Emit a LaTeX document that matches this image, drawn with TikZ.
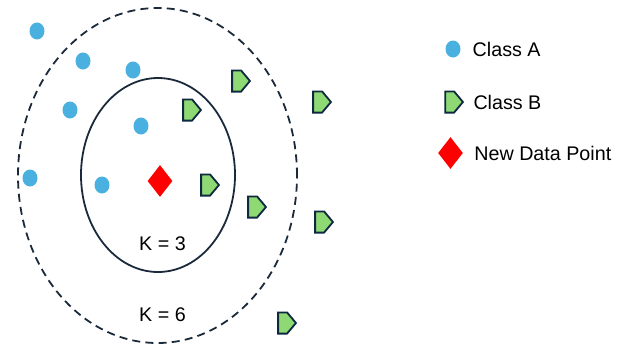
\documentclass[tikz,border=0pt]{standalone}
\usepackage{fontspec}
\setmainfont{Liberation Sans}
\usepackage{tikz}
\usepackage{xcolor}
\usetikzlibrary{shapes.geometric, shapes.symbols, positioning}

\definecolor{dotblue}{HTML}{4AB0E0}
\definecolor{flaggreen}{HTML}{8ED973}
\definecolor{navy}{HTML}{0E2841}
\definecolor{ringcol}{HTML}{1B2A3A}

\begin{document}
\begin{tikzpicture}[x=0.5pt, y=-0.5pt,
    classa/.style={ellipse, fill=dotblue, inner sep=0, minimum width=7.5pt, minimum height=8.5pt},
    classb/.style={signal, signal to=east, signal pointer angle=100, draw=navy, line width=0.9pt,
        fill=flaggreen, inner sep=0, minimum width=8.9pt, minimum height=10.6pt, xshift=-2.2pt},
    newpoint/.style={diamond, fill=red, inner sep=0, minimum width=12.5pt, minimum height=16pt},
    ring/.style={ellipse, draw=ringcol, line width=0.9pt, inner sep=0},
    txt/.style={inner sep=0, text=black, font=\fontsize{9.85}{12}\selectfont}]
    \useasboundingbox (0,0) rectangle (622,345);

    % Neighbourhoods
    \node[ring, dash pattern=on 4pt off 2.6pt, minimum width=139.5pt, minimum height=167.5pt] (ksix) at (157.5,175.5) {};
    \node[ring, minimum width=77pt, minimum height=97pt] (kthree) at (158,175) {};
    \node[txt] (kthreelabel) at (162.5,243.5) {K = 3};
    \node[txt] (ksixlabel) at (162.5,314.5) {K = 6};

    % Class A points
    \node[classa] (a1) at (37,31) {};
    \node[classa] (a2) at (83,61) {};
    \node[classa] (a3) at (133,70) {};
    \node[classa] (a4) at (70,110) {};
    \node[classa] (a5) at (141,126) {};
    \node[classa] (a6) at (30,178) {};
    \node[classa] (a7) at (102,185) {};

    % Class B points
    \node[classb] (b1) at (241,81) {};
    \node[classb] (b2) at (192,110) {};
    \node[classb] (b3) at (322,102) {};
    \node[classb] (b4) at (210,185) {};
    \node[classb] (b5) at (257,207) {};
    \node[classb] (b6) at (324,222) {};
    \node[classb] (b7) at (287,323) {};

    % New point
    \node[newpoint] (query) at (160,181) {};

    % Legend
    \node[classa] (keya) at (453,49) {};
    \node[txt, right=5.7pt of keya] (labela) {Class A};
    \node[classb] (keyb) at (454,102) {};
    \node[txt, right=4.5pt of keyb] (labelb) {Class B};
    \node[newpoint] (keynew) at (450.5,153) {};
    \node[txt, right=5.3pt of keynew] (labelnew) {New Data Point};
\end{tikzpicture}
\end{document}
